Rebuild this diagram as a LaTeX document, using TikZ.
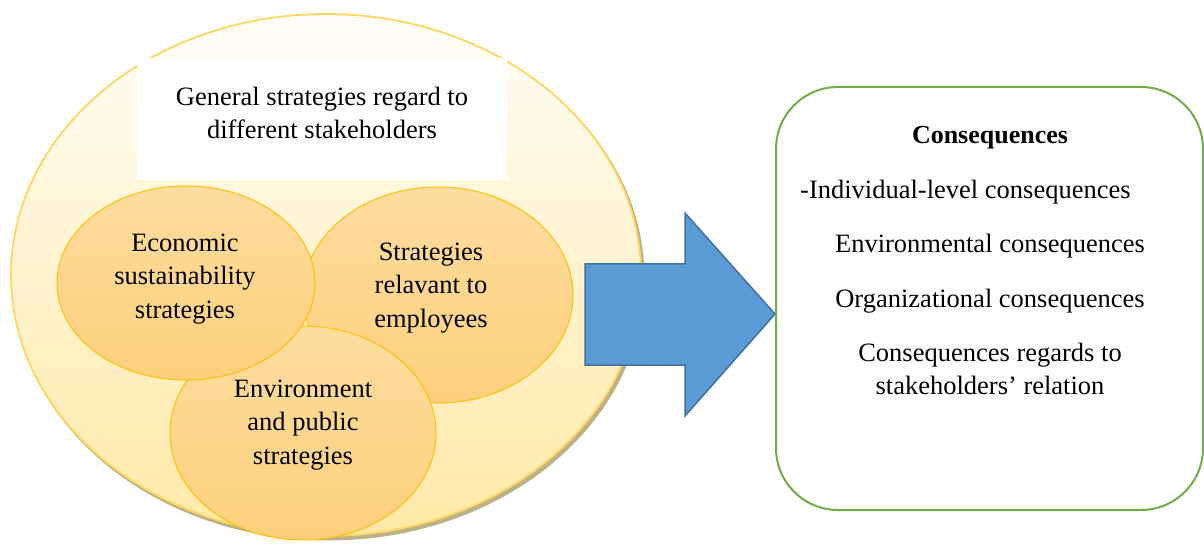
\documentclass[tikz,border=0pt]{standalone}
\usepackage{fontspec}
\setmainfont{Liberation Serif}
\usetikzlibrary{shapes.geometric}
\definecolor{bigtop}{HTML}{FFFDF7}
\definecolor{bigbot}{HTML}{FFE9A6}
\definecolor{bigline}{HTML}{FFD75E}
\definecolor{shadowtan}{HTML}{BDB187}
\definecolor{circtop}{HTML}{FEDDA0}
\definecolor{circbot}{HTML}{FCD07C}
\definecolor{circline}{HTML}{FFC000}
\definecolor{arrowfill}{HTML}{5B9BD5}
\definecolor{arrowline}{HTML}{41719C}
\definecolor{boxline}{HTML}{70AD47}
\tikzset{
  circ/.style={ellipse, draw=circline, line width=1pt, top color=circtop, bottom color=circbot, inner sep=0pt},
  txt/.style={align=center, font=\fontsize{26.5}{33.5}\selectfont, inner sep=0pt},
}
\begin{document}
\begin{tikzpicture}[x=1pt,y=-1pt]
\useasboundingbox (0,0) rectangle (1204,545);
% big ellipse with shadow
\node[ellipse, fill=shadowtan, minimum width=632pt, minimum height=524pt, inner sep=0pt] (bigshadow) at (328.5,278.5) {};
\node[ellipse, draw=bigline, line width=1.8pt, top color=bigtop, bottom color=bigbot, minimum width=630pt, minimum height=522pt, inner sep=0pt] (big) at (326,275) {};
% white title box
\node[fill=white, minimum width=370pt, minimum height=122pt, inner sep=0pt] (titlebox) at (322,119) {};
\node[txt] (title) at (322,113) {General strategies regard to\\different stakeholders};
% three circles
\node[circ, minimum width=270pt, minimum height=216pt] (emp) at (438,295) {};
\node[circ, minimum width=266pt, minimum height=214pt] (env) at (303,433) {};
\node[circ, minimum width=258pt, minimum height=194pt] (eco) at (186,283) {};
\node[txt] (ecot) at (185,279) {Economic\\sustainability\\strategies};
\node[txt] (empt) at (431,288) {Strategies\\relavant to\\employees};
\node[txt] (envt) at (303,425) {Environment\\and public\\strategies};
% block arrow
\coordinate (a1) at (585,264);
\coordinate (a2) at (685,264);
\coordinate (a3) at (685,213);
\coordinate (a4) at (775,314);
\coordinate (a5) at (685,416);
\coordinate (a6) at (685,365);
\coordinate (a7) at (585,365);
\draw[fill=arrowfill, draw=arrowline, line width=1.5pt, line join=miter] (a1) -- (a2) -- (a3) -- (a4) -- (a5) -- (a6) -- (a7) -- cycle;
% consequences box
\node[draw=boxline, line width=2pt, rounded corners=62pt, minimum width=427pt, minimum height=423pt, inner sep=0pt] (cbox) at (989.5,298.5) {};
\node[txt, font=\fontsize{26}{33.5}\selectfont\bfseries] (ch) at (990,138) {Consequences};
\node[txt, anchor=west] (c1) at (800,192) {-Individual-level consequences};
\node[txt] (c2) at (990,246) {Environmental consequences};
\node[txt] (c3) at (990,301) {Organizational consequences};
\node[txt] (c4) at (990,369) {Consequences regards to\\stakeholders’ relation};
\end{tikzpicture}
\end{document}
